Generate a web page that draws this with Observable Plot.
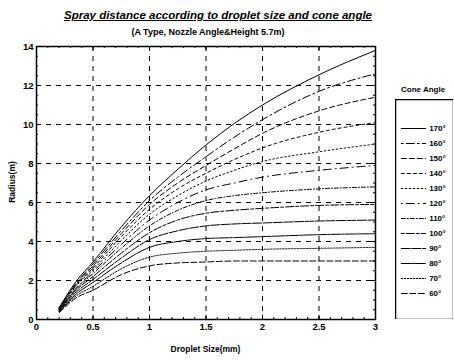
<!DOCTYPE html>
<html>
<head>
<meta charset="utf-8">
<script src="https://cdn.jsdelivr.net/npm/d3@7"></script>
<script src="https://cdn.jsdelivr.net/npm/@observablehq/plot@0.6"></script>
<style>
  body { margin: 0; background: #fff; }
  #wrap { position: relative; width: 454px; height: 361px; font-family: "Liberation Sans", Arial, sans-serif; }
  .t { position: absolute; white-space: nowrap; font-weight: bold; color: #000; }
</style>
</head>
<body>
<div id="wrap">
  <div class="t" id="title" style="left:0;width:436px;text-align:center;top:9px;font-size:11.5px;font-style:italic;text-decoration:underline;">Spray distance according to droplet size and cone angle</div>
  <div class="t" id="sub" style="left:0;width:416px;text-align:center;top:27px;font-size:9px;">(A Type, Nozzle Angle&amp;Height 5.7m)</div>
  <div class="t" id="xl" style="left:0;width:411px;text-align:center;top:344px;font-size:8.5px;">Droplet Size(mm)</div>
  <div class="t" id="yl" style="left:12px;top:182px;font-size:8.5px;transform:translate(-50%,-50%) rotate(-90deg);">Radius(m)</div>
</div>
<script>
const sizes = [0.2, 0.35, 0.5, 0.75, 1.0, 1.25, 1.5, 1.75, 2.0, 2.5, 3.0];
const angles = [170, 160, 150, 140, 130, 120, 110, 100, 90, 80, 70, 60];
const r170 = [0.6, 1.95, 2.95, 4.75, 6.35, 7.7, 8.95, 10.05, 11.0, 12.55, 13.8];
const r160 = [0.6, 1.85, 2.85, 4.55, 6.1, 7.3, 8.35, 9.35, 10.25, 11.7, 12.6];
const r150 = [0.55, 1.8, 2.75, 4.4, 5.9, 7.0, 7.9, 8.75, 9.55, 10.7, 11.4];
const r140 = [0.55, 1.75, 2.65, 4.25, 5.65, 6.7, 7.5, 8.2, 8.8, 9.6, 10.1];
const r130 = [0.5, 1.7, 2.55, 4.05, 5.4, 6.35, 7.1, 7.65, 8.1, 8.6, 9.0];
const r120 = [0.5, 1.6, 2.45, 3.85, 5.1, 6.0, 6.65, 7.0, 7.3, 7.65, 7.9];
const r110 = [0.5, 1.55, 2.35, 3.65, 4.8, 5.6, 6.1, 6.35, 6.5, 6.7, 6.8];
const r100 = [0.45, 1.5, 2.2, 3.4, 4.45, 5.1, 5.45, 5.6, 5.7, 5.85, 5.9];
const r90 = [0.45, 1.4, 2.05, 3.15, 4.1, 4.55, 4.8, 4.9, 4.95, 5.05, 5.1];
const r80 = [0.4, 1.3, 1.9, 2.9, 3.7, 4.0, 4.15, 4.2, 4.25, 4.35, 4.4];
const r70 = [0.4, 1.2, 1.7, 2.6, 3.2, 3.4, 3.5, 3.55, 3.6, 3.65, 3.7];
const r60 = [0.35, 1.1, 1.5, 2.3, 2.75, 2.9, 2.95, 3.0, 3.0, 3.0, 3.0];
const xTicks = [0, 0.5, 1, 1.5, 2, 2.5, 3];
const yTicks = [0, 2, 4, 6, 8, 10, 12, 14];

const series = [r170, r160, r150, r140, r130, r120, r110, r100, r90, r80, r70, r60];
const dashes = {
  170: null, 160: "2,3,8,3", 150: "5,3", 140: "3,3", 130: "1.5,2.5", 120: "1,4,8,4",
  110: "4,2,1,2", 100: "3,2,8,2", 90: "9,1.5", 80: "10,1,2,1", 70: "1.5,1.5", 60: "6,2.5"
};
const rows = [];
angles.forEach((a, i) => sizes.forEach((s, j) => rows.push({angle: a, size: s, r: series[i][j]})));

const minorX = d3.range(0, 3.0001, 0.1).map(v => +v.toFixed(2));
const minorY = d3.range(0, 14.0001, 0.5);

const lineMarks = angles.map(a => Plot.line(rows.filter(d => d.angle === a), {
  x: "size", y: "r", stroke: "#000", strokeWidth: 1, curve: "monotone-x",
  strokeDasharray: dashes[a]
}));

const main = Plot.plot({
  width: 454, height: 361,
  marginTop: 46, marginRight: 79, marginBottom: 42, marginLeft: 36,
  style: {fontFamily: "Liberation Sans, Arial, sans-serif", fontSize: "9.5px", fontWeight: "bold", background: "transparent", color: "#000"},
  x: {domain: [0, 3], ticks: xTicks, tickFormat: d => String(d), tickSize: 0, tickPadding: 4, label: null},
  y: {domain: [0, 14], ticks: yTicks, tickFormat: d => String(d), tickSize: 0, tickPadding: 3, label: null},
  marks: [
    Plot.ruleX(xTicks.slice(1, -1), {stroke: "#000", strokeDasharray: "5,5", strokeWidth: 1}),
    Plot.ruleY(yTicks.slice(1, -1), {stroke: "#000", strokeDasharray: "5,5", strokeWidth: 1}),
    Plot.ruleX(minorX, {y1: 0, y2: 0.1, stroke: "#000"}),
    Plot.ruleX(minorX, {y1: 14, y2: 13.9, stroke: "#000"}),
    Plot.ruleX(xTicks, {y1: 0, y2: 0.22, stroke: "#000"}),
    Plot.ruleX(xTicks, {y1: 14, y2: 13.78, stroke: "#000"}),
    Plot.ruleY(minorY, {x1: 0, x2: 0.018, stroke: "#000"}),
    Plot.ruleY(minorY, {x1: 3, x2: 2.982, stroke: "#000"}),
    Plot.ruleY(yTicks, {x1: 0, x2: 0.04, stroke: "#000"}),
    Plot.ruleY(yTicks, {x1: 3, x2: 2.96, stroke: "#000"}),
    ...lineMarks,
    Plot.frame({stroke: "#000", strokeWidth: 1.5})
  ]
});
main.style.position = "absolute";
main.style.left = "0px";
main.style.top = "0px";
const wrap = document.getElementById("wrap");
wrap.insertBefore(main, wrap.firstChild);

// legend
const legRows = [];
angles.forEach(a => { legRows.push({angle: a, u: 0.1}); legRows.push({angle: a, u: 0.52}); });
const legend = Plot.plot({
  width: 58, height: 220,
  marginTop: 0, marginRight: 0, marginBottom: 0, marginLeft: 0,
  style: {fontFamily: "Liberation Sans, Arial, sans-serif", fontSize: "8px", fontWeight: "bold", background: "transparent", color: "#000"},
  x: {domain: [0, 1], axis: null},
  y: {type: "point", domain: angles, range: [17, 205], axis: null},
  marks: [
    ...angles.map(a => Plot.line(legRows.filter(d => d.angle === a), {x: "u", y: "angle", stroke: "#000", strokeWidth: 1, strokeDasharray: dashes[a]})),
    Plot.text(angles, {x: 0.58, y: d => d, text: d => d + "°", textAnchor: "start", fill: "#000"}),
    Plot.frame({stroke: "#000", strokeWidth: 1.5})
  ]
});
legend.style.position = "absolute";
legend.style.left = "395px";
legend.style.top = "99px";
wrap.appendChild(legend);
const lt = document.createElement("div");
lt.className = "t";
lt.style.cssText = "left:401px;top:85px;font-size:8px;";
lt.textContent = "Cone Angle";
wrap.appendChild(lt);
</script>
</body>
</html>
